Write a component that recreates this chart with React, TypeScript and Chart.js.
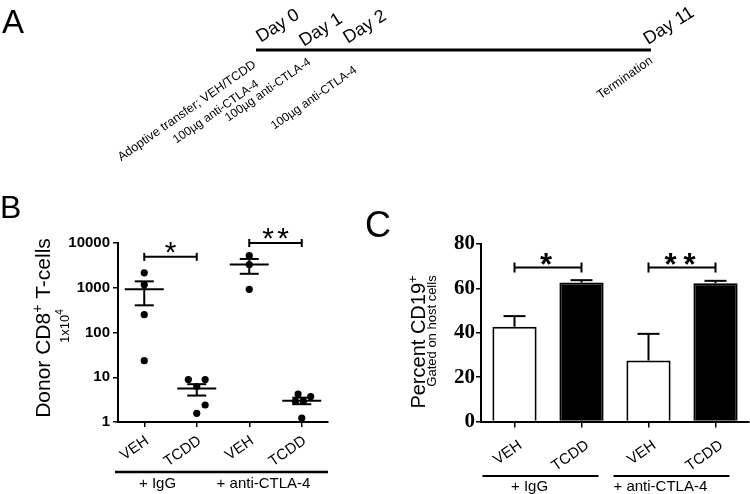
import React, { useEffect, useRef } from "react";
import { Chart, registerables } from "chart.js";

Chart.register(...registerables);

const SANS = "'Liberation Sans', Arial, Helvetica, sans-serif";
const SERIF = "'Liberation Serif', 'Times New Roman', serif";

// ---------- Panel A : timeline ----------
const timelineDays = [0, 11];
const dayLabels = ["Day 0", "Day 1", "Day 2", "Day 11"];
const eventLabels = [
  "Adoptive transfer; VEH/TCDD",
  "100µg anti-CTLA-4",
  "100µg anti-CTLA-4",
  "100µg anti-CTLA-4",
  "Termination",
];

// ---------- Panel B : donor CD8+ T-cells (log scale) ----------
const bCategories = ["VEH", "TCDD", "VEH", "TCDD"];
const bGroups = ["+ IgG", "+ anti-CTLA-4"];
const bYTicks = [1, 10, 100, 1000, 10000];
const bVehIgG = [2150, 1170, 250, 23.5];
const bTcddIgG = [8.9, 8.9, 6.2, 2.4, 1.56];
const bVehCtla = [5200, 3300, 920];
const bTcddCtla = [4.2, 3.7, 2.9, 2.9, 1.23];
const bJitter = [
  [0, 0, 0, 0],
  [-0.16, 0.16, 0, 0.16, 0],
  [0, 0, 0],
  [-0.07, 0.17, -0.12, 0.03, 0],
];
const bMeans = [920, 5.6, 3300, 3.0];
const bSemHigh = [1390, 7.0, 4400, 3.5];
const bSemLow = [405, 3.9, 2050, 2.5];
const bSigLevels = [4900, 10000];
const bSigLabels = ["*", "**"];

// ---------- Panel C : percent CD19+ ----------
const cCategories = ["VEH", "TCDD", "VEH", "TCDD"];
const cGroups = ["+ IgG", "+ anti-CTLA-4"];
const cYTicks = [0, 20, 40, 60, 80];
const cValues = [42.7, 62.6, 27.5, 62.3];
const cErrors = [4.8, 1.1, 12.0, 1.1];
const cSigLevels = [69.4, 69.4];
const cSigLabels = ["*", "**"];

type Seg = { text: string; font: string; rise?: number };

function drawRich(ctx: CanvasRenderingContext2D, segs: Seg[], x: number, y: number, angle: number, align = "center") {
  ctx.save();
  ctx.translate(x, y);
  ctx.rotate(angle);
  ctx.fillStyle = "#000";
  ctx.textAlign = "left";
  ctx.textBaseline = "alphabetic";
  let total = 0;
  for (const s of segs) {
    ctx.font = s.font;
    total += ctx.measureText(s.text).width;
  }
  let cx = align === "center" ? -total / 2 : align === "right" ? -total : 0;
  for (const s of segs) {
    ctx.font = s.font;
    ctx.fillText(s.text, cx, -(s.rise || 0));
    cx += ctx.measureText(s.text).width;
  }
  ctx.restore();
}

function drawCentered(ctx: CanvasRenderingContext2D, text: string, font: string, cx: number, cy: number, angleDeg: number) {
  ctx.save();
  ctx.translate(cx, cy);
  ctx.rotate((angleDeg * Math.PI) / 180);
  ctx.font = font;
  ctx.fillStyle = "#000";
  ctx.textAlign = "center";
  ctx.textBaseline = "middle";
  ctx.fillText(text, 0, 0);
  ctx.restore();
}

function drawStars(ctx: CanvasRenderingContext2D, label: string, cx: number, bottomY: number, font: string, spacing: number) {
  ctx.save();
  ctx.font = font;
  ctx.fillStyle = "#000";
  ctx.textAlign = "center";
  ctx.textBaseline = "alphabetic";
  const m = ctx.measureText("*");
  const baseline = bottomY - m.actualBoundingBoxDescent;
  const n = label.length;
  for (let k = 0; k < n; k++) ctx.fillText("*", cx + (k - (n - 1) / 2) * spacing, baseline);
  ctx.restore();
}

function seg(ctx: CanvasRenderingContext2D, x1: number, y1: number, x2: number, y2: number) {
  ctx.beginPath();
  ctx.moveTo(x1, y1);
  ctx.lineTo(x2, y2);
  ctx.stroke();
}

// ---------- Panel A chart ----------
const panelAPlugin = {
  id: "panelA",
  afterDraw(chart: any) {
    const ctx = chart.ctx as CanvasRenderingContext2D;
    ctx.save();
    ctx.fillStyle = "#000";
    ctx.font = `33px ${SANS}`;
    ctx.textBaseline = "alphabetic";
    ctx.fillText("A", 2, 33);
    const dayPos = [
      [278, 26],
      [321, 30],
      [365, 27],
      [669, 26],
    ];
    dayLabels.forEach((t, i) => drawCentered(ctx, t, `18px ${SANS}`, dayPos[i][0], dayPos[i][1], -32));
    const evPos = [
      [187, 111, 12.5],
      [216, 112, 12],
      [268, 90, 12],
      [314, 98, 12],
      [625, 78, 12.5],
    ];
    eventLabels.forEach((t, i) => drawCentered(ctx, t, `${evPos[i][2]}px ${SANS}`, evPos[i][0], evPos[i][1], -35));
    ctx.restore();
  },
};

const makeA = () => ({
  type: "scatter",
  data: {
    datasets: [
      {
        data: timelineDays.map((d) => ({ x: d, y: 0 })),
        showLine: true,
        borderColor: "#000",
        borderWidth: 3,
        pointRadius: 0,
        borderCapStyle: "butt",
      },
    ],
  },
  options: {
    responsive: false,
    animation: false,
    events: [],
    layout: { padding: { left: 256, right: 99, top: 40, bottom: 130 } },
    scales: {
      x: { type: "linear", display: false, min: timelineDays[0], max: timelineDays[1] },
      y: { type: "linear", display: false, min: -1, max: 1 },
    },
    plugins: { legend: { display: false }, tooltip: { enabled: false }, title: { display: false } },
  },
  plugins: [panelAPlugin],
});

// ---------- Panel B chart ----------
const bSeries = [bVehIgG, bTcddIgG, bVehCtla, bTcddCtla];

const panelBPlugin = {
  id: "panelB",
  afterDraw(chart: any) {
    const ctx = chart.ctx as CanvasRenderingContext2D;
    const x = chart.scales.x;
    const y = chart.scales.y;
    const area = chart.chartArea;
    ctx.save();
    ctx.strokeStyle = "#000";
    ctx.lineWidth = 2;
    ctx.lineCap = "butt";
    // mean +/- SEM
    bMeans.forEach((m, i) => {
      const px = x.getPixelForValue(i + 1);
      const pm = y.getPixelForValue(m);
      const ph = y.getPixelForValue(bSemHigh[i]);
      const pl = y.getPixelForValue(bSemLow[i]);
      seg(ctx, px - 19.5, pm, px + 19.5, pm);
      seg(ctx, px, ph, px, pl);
      seg(ctx, px - 9.5, ph, px + 9.5, ph);
      seg(ctx, px - 9.5, pl, px + 9.5, pl);
    });
    // significance brackets
    bSigLevels.forEach((lv, i) => {
      const x1 = x.getPixelForValue(2 * i + 1);
      const x2 = x.getPixelForValue(2 * i + 2);
      const py = y.getPixelForValue(lv);
      seg(ctx, x1, py, x2, py);
      seg(ctx, x1, py - 4, x1, py + 4);
      seg(ctx, x2, py - 4, x2, py + 4);
      drawStars(ctx, bSigLabels[i], (x1 + x2) / 2, py - 4, `30px ${SANS}`, 15);
    });
    // group line and labels
    ctx.lineWidth = 2.5;
    seg(ctx, area.left - 3, 282, area.right, 282);
    ctx.fillStyle = "#000";
    ctx.font = `15px ${SANS}`;
    ctx.textAlign = "center";
    ctx.textBaseline = "alphabetic";
    ctx.fillText(bGroups[0], x.getPixelForValue(1.5) - 13, 298);
    ctx.fillText(bGroups[1], x.getPixelForValue(3.5) - 12, 298);
    // panel letter
    ctx.textAlign = "left";
    ctx.font = `32px ${SANS}`;
    ctx.fillText("B", 0, 28);
    ctx.restore();
    // axis titles
    drawRich(
      ctx,
      [
        { text: "Donor CD8", font: `21px ${SANS}` },
        { text: "+", font: `14px ${SANS}`, rise: 8 },
        { text: " T-cells", font: `21px ${SANS}` },
      ],
      50,
      138,
      -Math.PI / 2
    );
    drawRich(
      ctx,
      [
        { text: "1x10", font: `13px ${SANS}` },
        { text: "4", font: `10px ${SANS}`, rise: 6 },
      ],
      69,
      136,
      -Math.PI / 2
    );
  },
};

const makeB = () => ({
  type: "scatter",
  data: {
    datasets: [
      {
        data: bSeries.flatMap((vals, g) => vals.map((v, k) => ({ x: g + 1 + bJitter[g][k], y: v }))),
        pointRadius: 3.6,
        pointBackgroundColor: "#000",
        pointBorderWidth: 0,
        clip: false,
      },
    ],
  },
  options: {
    responsive: false,
    animation: false,
    events: [],
    layout: { padding: { left: 0, right: 32, top: 53, bottom: 0 } },
    scales: {
      x: {
        type: "linear",
        min: 0.5,
        max: 4.5,
        afterBuildTicks: (s: any) => {
          s.ticks = bCategories.map((_, i) => ({ value: i + 1 }));
        },
        afterFit: (s: any) => {
          s.height = 72;
        },
        ticks: {
          callback: (v: number) => bCategories[Math.round(v) - 1],
          minRotation: 35,
          maxRotation: 35,
          font: { family: SANS, size: 15 },
          color: "#000",
          padding: 5,
          labelOffset: 3,
        },
        grid: { drawOnChartArea: false, drawTicks: true, tickLength: 5, color: "#000", lineWidth: 1.5 },
        border: { display: true, color: "#000", width: 2 },
      },
      y: {
        type: "logarithmic",
        min: 1,
        max: 10000,
        afterBuildTicks: (s: any) => {
          s.ticks = bYTicks.map((v) => ({ value: v }));
        },
        afterFit: (s: any) => {
          s.width = 118;
        },
        ticks: {
          callback: (v: number) => String(v),
          font: { family: SANS, size: 15, weight: "bold" },
          color: "#000",
          padding: 3,
        },
        grid: { drawOnChartArea: false, drawTicks: true, tickLength: 5, color: "#000", lineWidth: 1.5 },
        border: { display: true, color: "#000", width: 2 },
      },
    },
    plugins: { legend: { display: false }, tooltip: { enabled: false }, title: { display: false } },
  },
  plugins: [panelBPlugin],
});

// ---------- Panel C chart ----------
const panelCPlugin = {
  id: "panelC",
  afterDraw(chart: any) {
    const ctx = chart.ctx as CanvasRenderingContext2D;
    const x = chart.scales.x;
    const y = chart.scales.y;
    const meta = chart.getDatasetMeta(0);
    ctx.save();
    ctx.strokeStyle = "#000";
    ctx.lineWidth = 2;
    // error bars (upper)
    cValues.forEach((v, i) => {
      const bar = meta.data[i];
      const px = bar.x;
      const top = y.getPixelForValue(v);
      const hi = y.getPixelForValue(v + cErrors[i]);
      seg(ctx, px, top, px, hi);
      seg(ctx, px - 11, hi, px + 11, hi);
    });
    // brackets
    cSigLevels.forEach((lv, i) => {
      const x1 = x.getPixelForValue(2 * i);
      const x2 = x.getPixelForValue(2 * i + 1);
      const py = y.getPixelForValue(lv);
      seg(ctx, x1, py, x2, py);
      seg(ctx, x1, py - 5, x1, py + 5);
      seg(ctx, x2, py - 5, x2, py + 5);
      drawStars(ctx, cSigLabels[i], (x1 + x2) / 2 - 2, py - 3, `bold 31px ${SANS}`, 19);
    });
    // group lines + labels
    ctx.lineWidth = 2;
    seg(ctx, x.getPixelForValue(0) - 32, 286, x.getPixelForValue(1) + 17, 286);
    seg(ctx, x.getPixelForValue(2) - 35, 286, x.getPixelForValue(3) + 14, 286);
    ctx.fillStyle = "#000";
    ctx.font = `15px ${SANS}`;
    ctx.textBaseline = "alphabetic";
    ctx.textAlign = "center";
    ctx.fillText(cGroups[0], x.getPixelForValue(0) + 15, 300.5);
    ctx.textAlign = "left";
    ctx.fillText(cGroups[1], x.getPixelForValue(2) - 35, 300.5);
    // panel letter
    ctx.font = `36px ${SANS}`;
    ctx.fillText("C", 5, 47);
    ctx.restore();
    drawRich(
      ctx,
      [
        { text: "Percent CD19", font: `20px ${SANS}` },
        { text: "+", font: `13px ${SANS}`, rise: 8 },
      ],
      65,
      152,
      -Math.PI / 2
    );
    drawRich(ctx, [{ text: "Gated on host cells", font: `13px ${SANS}` }], 76, 141, -Math.PI / 2);
  },
};

const makeC = () => ({
  type: "bar",
  data: {
    labels: cCategories,
    datasets: [
      {
        data: cValues,
        backgroundColor: cValues.map((_, i) => (i % 2 ? "#000" : "#fff")),
        borderColor: "#000",
        borderWidth: 2,
        barPercentage: 0.66,
        categoryPercentage: 1,
      },
    ],
  },
  options: {
    responsive: false,
    animation: false,
    events: [],
    layout: { padding: { left: 0, right: 1, top: 54, bottom: 0 } },
    scales: {
      x: {
        type: "category",
        afterFit: (s: any) => {
          s.height = 72.5;
        },
        ticks: {
          minRotation: 35,
          maxRotation: 35,
          font: { family: SANS, size: 15 },
          color: "#000",
          padding: 9,
          labelOffset: 6,
        },
        grid: { offset: false, drawOnChartArea: false, drawTicks: true, tickLength: 6, color: "#000", lineWidth: 1.5 },
        border: { display: true, color: "#000", width: 2 },
      },
      y: {
        type: "linear",
        min: 0,
        max: 80,
        afterBuildTicks: (s: any) => {
          s.ticks = cYTicks.map((v) => ({ value: v }));
        },
        afterFit: (s: any) => {
          s.width = 121;
        },
        ticks: {
          font: { family: SERIF, size: 21, weight: "bold" },
          color: "#000",
          padding: 1,
        },
        grid: { drawOnChartArea: false, drawTicks: true, tickLength: 5, color: "#000", lineWidth: 1.5 },
        border: { display: true, color: "#000", width: 2 },
      },
    },
    plugins: { legend: { display: false }, tooltip: { enabled: false }, title: { display: false } },
  },
  plugins: [panelCPlugin],
});

function ChartCanvas({ left, top, width, height, make }: any) {
  const ref = useRef<HTMLCanvasElement | null>(null);
  useEffect(() => {
    const chart = new Chart(ref.current as HTMLCanvasElement, make());
    return () => chart.destroy();
  }, []);
  return (
    <canvas
      ref={ref}
      width={width}
      height={height}
      style={{ position: "absolute", left, top, width, height }}
    />
  );
}

export default function App() {
  return (
    <div
      style={{
        position: "absolute",
        left: 0,
        top: 0,
        width: 750,
        height: 494,
        background: "#fff",
        overflow: "hidden",
      }}
    >
      <ChartCanvas left={0} top={0} width={750} height={190} make={makeA} />
      <ChartCanvas left={0} top={190} width={360} height={304} make={makeB} />
      <ChartCanvas left={360} top={190} width={390} height={304} make={makeC} />
    </div>
  );
}
